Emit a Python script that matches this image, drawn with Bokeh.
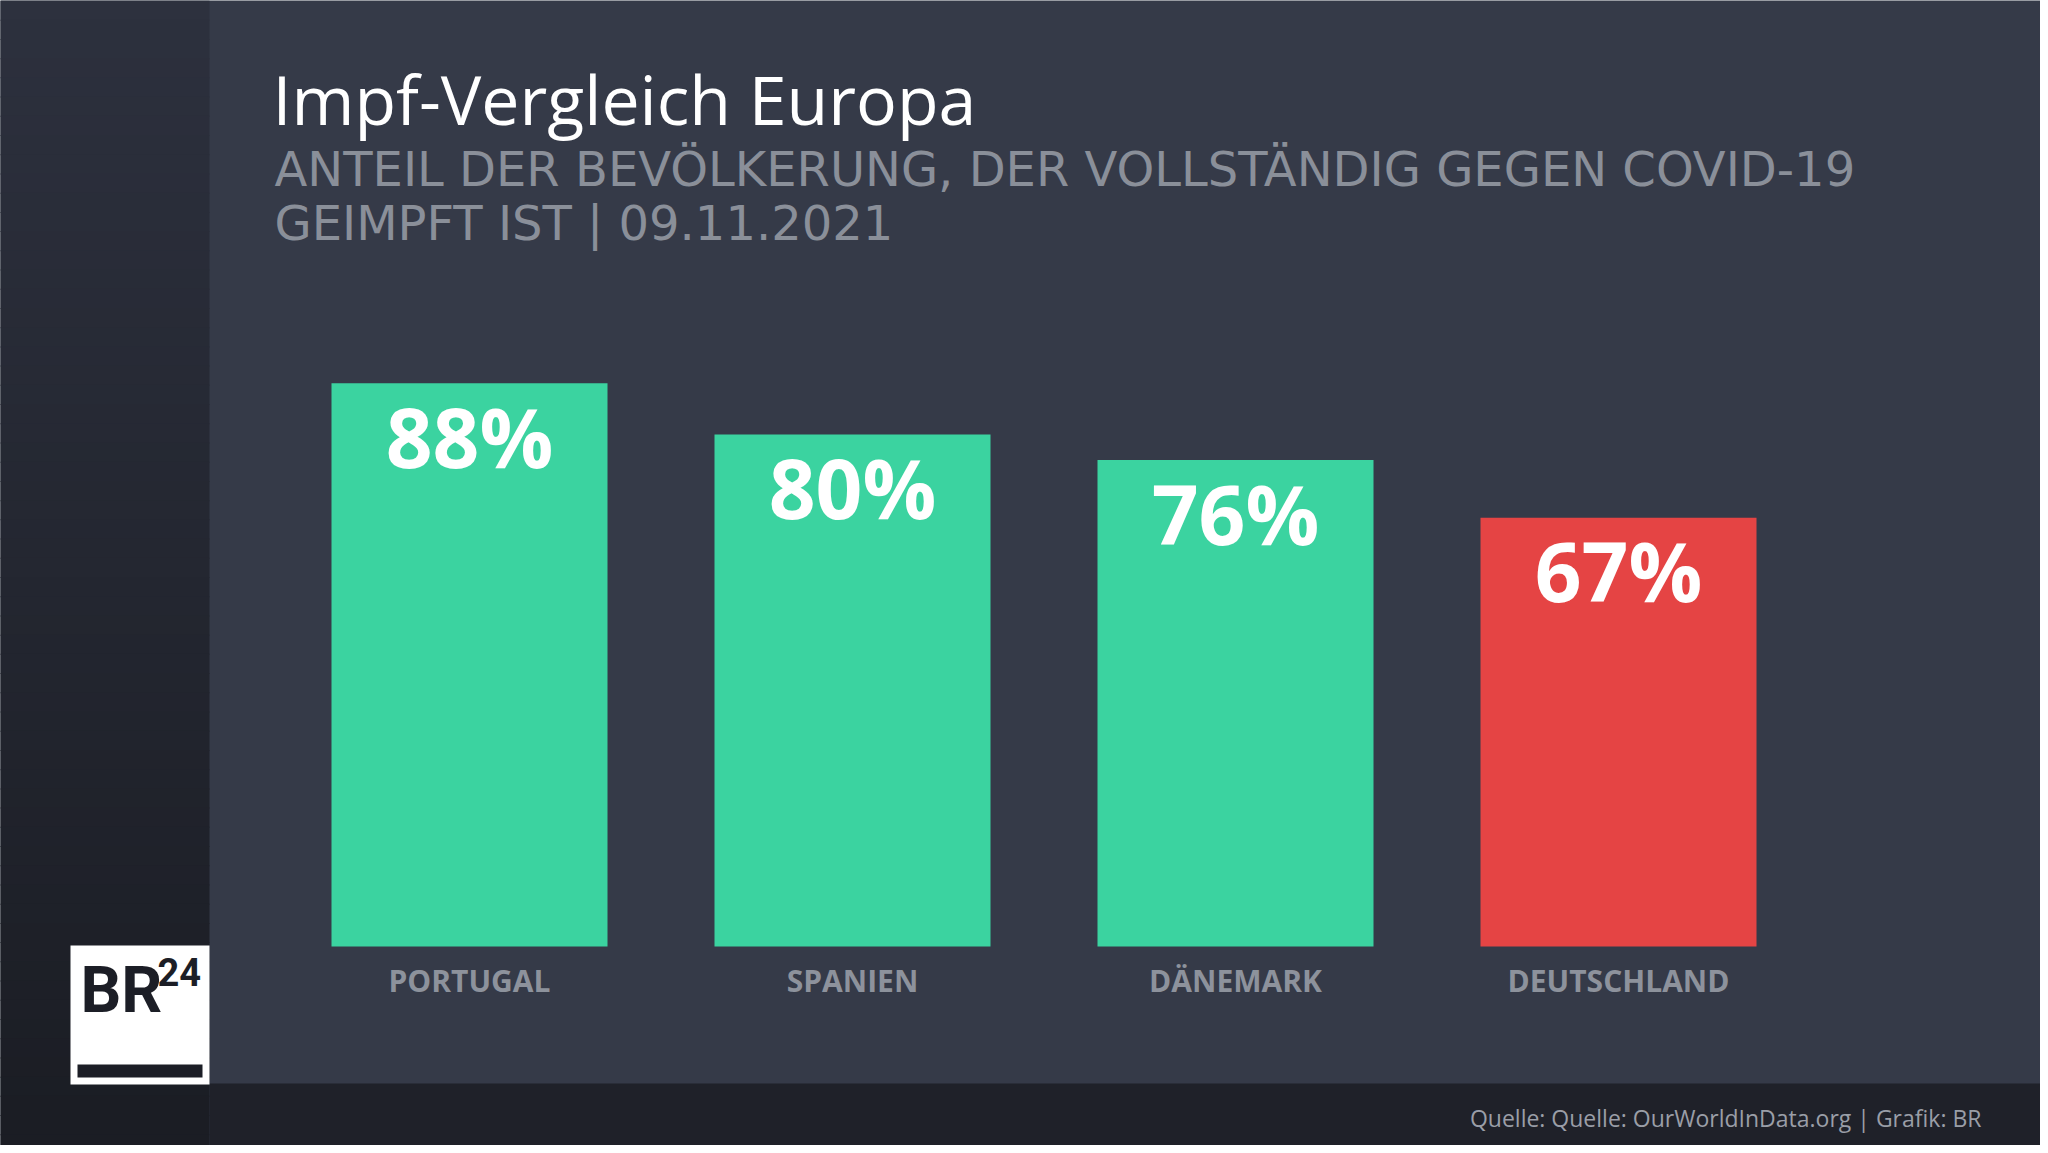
import numpy as np
from bokeh.plotting import figure
from bokeh.models import Range1d
from bokeh.core.properties import value
from bokeh.embed import file_html
from bokeh.resources import INLINE

# ---------------- data ----------------
categories = ["PORTUGAL", "SPANIEN", "DÄNEMARK", "DEUTSCHLAND"]
values = [88, 80, 76, 67]
value_labels = ["88%", "80%", "76%", "67%"]
bar_colors = ["#3bd3a0", "#3bd3a0", "#3bd3a0", "#e54444"]
title_text = "Impf-Vergleich Europa"
subtitle_lines = ["ANTEIL DER BEVÖLKERUNG, DER VOLLSTÄNDIG GEGEN COVID-19",
                  "GEIMPFT IST | 09.11.2021"]
source_text = "Quelle: Quelle: OurWorldInData.org | Grafik: BR"

# ---------------- layout ----------------
W, H = 2040, 1145
X0 = 469.0    # reference px of first bar centre
STEP = 383.0  # px between bar centres
Y0 = 946.0    # reference px of the bar baseline
PPU = 6.4     # px per percent
K = 0.43      # empirical baseline correction (fraction of font size)


def px(X):
    return (X - X0) / STEP


def py(Y):
    return (Y0 - Y) / PPU


def pyb(Y, fs):
    """data y for a text whose alphabetic baseline should sit at ref px Y"""
    return py(Y - K * fs)


FONT = value("Open Sans")

p = figure(width=W, height=H,
           x_range=Range1d(px(0), px(W)),
           y_range=Range1d(py(H), py(0)),
           output_backend="svg", toolbar_location=None, min_border=0)
p.axis.visible = False
p.grid.visible = False
p.outline_line_color = None
p.background_fill_color = "#353a48"
p.border_fill_color = "#353a48"

# left strip with vertical gradient
n = 60
top_c = np.array([0x2d, 0x31, 0x3e])
bot_c = np.array([0x1b, 0x1d, 0x24])
edges = np.linspace(0, 1153, n + 1)
cols = []
for i in range(n):
    t = i / (n - 1)
    c = (top_c * (1 - t) + bot_c * t).astype(int)
    cols.append("#%02x%02x%02x" % tuple(c))
p.quad(left=[px(-10)] * n, right=[px(209)] * n,
       top=[py(e) for e in edges[:-1]], bottom=[py(e + 1) for e in edges[1:]],
       fill_color=cols, line_color=None)
# bottom strip
p.quad(left=px(209), right=px(2060), top=py(1083), bottom=py(1170),
       fill_color="#1f2129", line_color=None)

# bars
idx = list(range(len(categories)))
p.vbar(x=idx, top=values, bottom=0, width=276 / STEP,
       fill_color=bar_colors, line_color=None)

# value labels inside bars
VFS = 82
p.text(x=idx, y=[v - (88 - K * VFS) / PPU for v in values], text=value_labels,
       text_align="center", text_baseline="alphabetic",
       text_font=FONT, text_font_style="bold", text_font_size=value(f"{VFS}px"),
       text_color="white")

# category labels
CFS = 30
p.text(x=idx, y=[pyb(993, CFS)] * len(idx), text=categories,
       text_align="center", text_baseline="alphabetic",
       text_font=FONT, text_font_style="bold", text_font_size=value(f"{CFS}px"),
       text_color="#8d929c")

# title & subtitle
TFS = 68
p.text(x=[px(272)], y=[pyb(127, TFS)], text=[title_text],
       text_align="left", text_baseline="alphabetic",
       text_font=FONT, text_font_size=value(f"{TFS}px"), text_color="white")
SFS = 48
p.text(x=[px(274), px(274)], y=[pyb(189, SFS), pyb(243, SFS)], text=subtitle_lines,
       text_align="left", text_baseline="alphabetic",
       text_font=value("DejaVu Sans"), text_font_size=value(f"{SFS}px"),
       text_color="#8a8f99")

# source
QFS = 23
p.text(x=[px(1981)], y=[pyb(1127, QFS)], text=[source_text],
       text_align="right", text_baseline="alphabetic",
       text_font=FONT, text_font_size=value(f"{QFS}px"), text_color="#9a9ea7")

# logo
p.quad(left=px(70), right=px(209), top=py(945), bottom=py(1084),
       fill_color="white", line_color=None)
p.quad(left=px(77), right=px(202), top=py(1064), bottom=py(1077),
       fill_color="#1c1e26", line_color=None)
BFS = 64
p.text(x=[px(80)], y=[pyb(1018, BFS)], text=["BR"], text_align="left",
       text_baseline="alphabetic", text_font=value("Roboto"), text_font_style="bold",
       text_font_size=value(f"{BFS}px"), text_color="#1c1e26")
NFS = 38
p.text(x=[px(157)], y=[pyb(988, NFS)], text=["24"], text_align="left",
       text_baseline="alphabetic", text_font=value("Roboto"), text_font_style="bold",
       text_font_size=value(f"{NFS}px"), text_color="#1c1e26")

open("out.html", "w").write(file_html(p, INLINE))
